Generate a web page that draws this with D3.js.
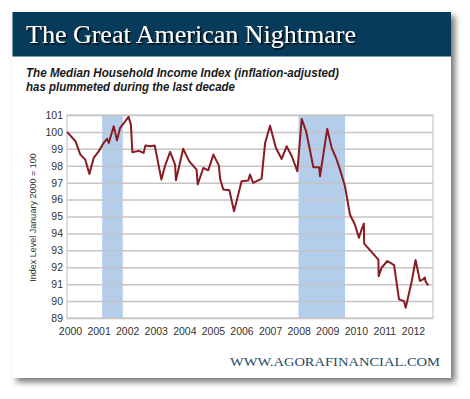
<!DOCTYPE html>
<html>
<head>
<meta charset="utf-8">
<script src="https://cdn.jsdelivr.net/npm/d3@7"></script>
<style>
  body { margin: 0; background: #fff; }
  svg { display: block; }
</style>
</head>
<body>
<div class="chart"></div>
<script>
// data (decimal year, index level)
const dates = [2000.00, 2000.29, 2000.46, 2000.63, 2000.77, 2000.92, 2001.09, 2001.26, 2001.38, 2001.44,
  2001.49, 2001.61, 2001.72, 2001.83, 2002.12, 2002.20, 2002.25, 2002.47, 2002.64, 2002.70,
  2002.87, 2003.02, 2003.25, 2003.37, 2003.55, 2003.72, 2003.75, 2004.00, 2004.21, 2004.46,
  2004.50, 2004.69, 2004.86, 2005.04, 2005.23, 2005.27, 2005.38, 2005.59, 2005.75, 2006.01,
  2006.24, 2006.30, 2006.41, 2006.70, 2006.82, 2006.99, 2007.19, 2007.39, 2007.56, 2007.74,
  2007.93, 2008.08, 2008.23, 2008.36, 2008.48, 2008.68, 2008.71, 2008.96, 2009.11, 2009.26,
  2009.40, 2009.57, 2009.74, 2009.91, 2010.05, 2010.14, 2010.22, 2010.23, 2010.72, 2010.73,
  2010.83, 2011.03, 2011.26, 2011.43, 2011.60, 2011.66, 2011.87, 2012.00, 2012.15, 2012.26,
  2012.32, 2012.35, 2012.44];
const values = [100.0, 99.45, 98.66, 98.36, 97.52, 98.47, 98.85, 99.35, 99.59, 99.35,
  99.65, 100.33, 99.5, 100.24, 100.89, 100.43, 98.8, 98.88, 98.76, 99.2,
  99.15, 99.2, 97.18, 97.97, 98.82, 98.07, 97.14, 99.0, 98.26, 97.77,
  96.89, 97.87, 97.73, 98.66, 98.01, 97.23, 96.6, 96.55, 95.31, 97.08,
  97.13, 97.48, 96.99, 97.24, 99.35, 100.37, 99.06, 98.4, 99.15, 98.56,
  97.67, 100.77, 100.04, 98.96, 97.91, 97.91, 97.38, 100.18, 99.06, 98.47,
  97.77, 96.79, 95.12, 94.53, 93.74, 94.23, 94.58, 93.4, 92.45, 91.47,
  91.97, 92.37, 92.13, 90.1, 90.0, 89.61, 91.19, 92.43, 91.19, 91.29,
  91.39, 91.13, 90.93];
const recessionStart = [2001.21, 2007.97];
const recessionEnd = [2001.92, 2009.57];
const yearLabels = ['2000','2001','2002','2003','2004','2005','2006','2007','2008','2009','2010','2011','2012'];
const yTicks = [89,90,91,92,93,94,95,96,97,98,99,100,101];

const title = 'The Great American Nightmare';
const subtitle = ['The Median Household Income Index (inflation-adjusted)', 'has plummeted during the last decade'];
const yTitle = 'Index Level January 2000 = 100';
const credit = 'WWW.AGORAFINANCIAL.COM';

const W = 470, H = 399;
const svg = d3.select('.chart').append('svg')
  .attr('width', W)
  .attr('height', H);

const defs = svg.append('defs');
const shadow = defs.append('filter').attr('id', 'card-shadow')
  .attr('x', '-5%').attr('y', '-5%').attr('width', '115%').attr('height', '115%');
shadow.append('feDropShadow')
  .attr('dx', 4).attr('dy', 4)
  .attr('stdDeviation', 3)
  .attr('flood-color', '#000')
  .attr('flood-opacity', 0.55);

const textShadow = defs.append('filter').attr('id', 'title-shadow');
textShadow.append('feDropShadow')
  .attr('dx', 1.5).attr('dy', 1.5)
  .attr('stdDeviation', 0.4)
  .attr('flood-color', '#000')
  .attr('flood-opacity', 0.9);

// card + header band
svg.append('rect')
  .attr('x', 12.5).attr('y', 12)
  .attr('width', 438.5).attr('height', 366)
  .attr('fill', '#fff')
  .attr('filter', 'url(#card-shadow)');

svg.append('rect')
  .attr('x', 12.5).attr('y', 12)
  .attr('width', 438.5).attr('height', 44.5)
  .attr('fill', '#083a59');

svg.append('text')
  .attr('x', 26).attr('y', 43)
  .attr('font-family', '"Liberation Serif", "DejaVu Serif", serif')
  .attr('font-size', 26)
  .attr('textLength', 330)
  .attr('lengthAdjust', 'spacingAndGlyphs')
  .attr('fill', '#fff')
  .attr('filter', 'url(#title-shadow)')
  .text(title);

svg.selectAll('.subtitle')
  .data(subtitle)
  .enter()
  .append('text')
  .attr('class', 'subtitle')
  .attr('x', 26)
  .attr('y', (d, i) => 77 + i * 13.5)
  .attr('font-family', '"Liberation Sans", Arial, sans-serif')
  .attr('font-size', 12.5)
  .attr('font-weight', 'bold')
  .attr('font-style', 'italic')
  .attr('fill', '#1a1a1a')
  .attr('textLength', (d, i) => i === 0 ? 313 : 209)
  .attr('lengthAdjust', 'spacingAndGlyphs')
  .text(d => d);

// plot
const plot = { left: 67, right: 433, top: 115, bottom: 318 };

const x = d3.scaleLinear()
  .domain([2000, 2012.6])
  .range([plot.left, plot.right]);

const y = d3.scaleLinear()
  .domain([89, 101])
  .range([plot.bottom, plot.top]);

const xLabel = d3.scalePoint()
  .domain(yearLabels)
  .range([70, 413]);

const g = svg.append('g');

// recession bands
g.selectAll('.band')
  .data(recessionStart)
  .enter()
  .append('rect')
  .attr('class', 'band')
  .attr('x', d => x(d))
  .attr('width', (d, i) => x(recessionEnd[i]) - x(d))
  .attr('y', plot.top)
  .attr('height', plot.bottom - plot.top)
  .attr('fill', '#b3cdeb');

// gridlines
const yAxis = g.append('g')
  .attr('class', 'y axis')
  .attr('transform', `translate(${plot.left}, 0)`)
  .call(d3.axisLeft(y)
    .tickValues(yTicks)
    .tickSize(-(plot.right - plot.left))
    .tickPadding(4)
    .tickFormat(d3.format('d')));

yAxis.select('.domain').remove();
yAxis.selectAll('.tick line')
  .attr('stroke', '#c4c4c4')
  .attr('stroke-width', 1.5);
yAxis.selectAll('.tick text')
  .attr('font-family', '"Liberation Sans", Arial, sans-serif')
  .attr('font-size', 10.5)
  .attr('fill', '#333');

// plot border
g.append('rect')
  .attr('x', plot.left)
  .attr('y', plot.top)
  .attr('width', plot.right - plot.left)
  .attr('height', plot.bottom - plot.top)
  .attr('fill', 'none')
  .attr('stroke', '#c8c8c8')
  .attr('stroke-width', 1.2);

const xAxis = g.append('g')
  .attr('class', 'x axis')
  .attr('transform', `translate(0, ${plot.bottom})`)
  .call(d3.axisBottom(xLabel).tickSize(0).tickPadding(10));

xAxis.select('.domain').remove();
xAxis.selectAll('.tick text')
  .attr('font-family', '"Liberation Sans", Arial, sans-serif')
  .attr('font-size', 10.5)
  .attr('fill', '#333');

// the index line
const line = d3.line()
  .x((d, i) => x(dates[i]))
  .y(d => y(d));

g.append('path')
  .datum(values)
  .attr('d', line)
  .attr('fill', 'none')
  .attr('stroke', '#8a1b22')
  .attr('stroke-width', 2)
  .attr('stroke-linejoin', 'round');

// y axis title
svg.append('text')
  .attr('transform', `translate(36, ${(plot.top + plot.bottom) / 2 + 1}) rotate(-90)`)
  .attr('text-anchor', 'middle')
  .attr('font-family', '"Liberation Sans", Arial, sans-serif')
  .attr('font-size', 9)
  .attr('fill', '#333')
  .text(yTitle);

// credit
svg.append('text')
  .attr('x', 440).attr('y', 366)
  .attr('text-anchor', 'end')
  .attr('font-family', '"Liberation Serif", "DejaVu Serif", serif')
  .attr('font-size', 13)
  .attr('textLength', 210)
  .attr('lengthAdjust', 'spacingAndGlyphs')
  .attr('fill', '#1f4a68')
  .text(credit);
</script>
</body>
</html>
